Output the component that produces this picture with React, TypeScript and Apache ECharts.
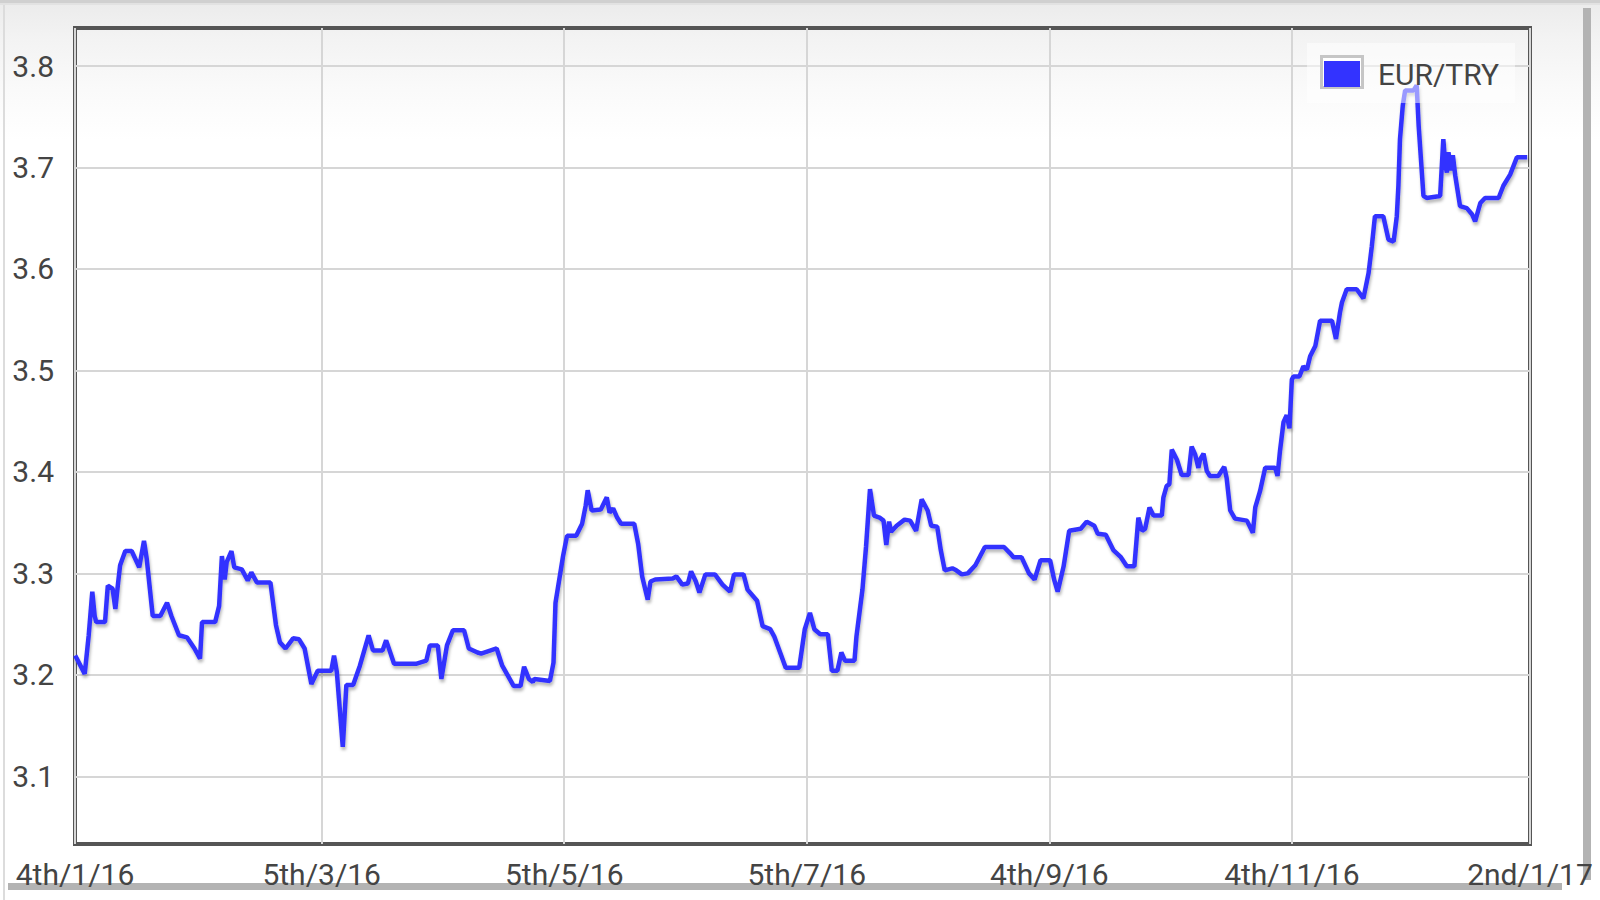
import React, { useEffect, useRef } from "react";
import * as echarts from "echarts";

// Day offsets from 4th Jan 2016 and EUR/TRY rates
const janMarDays = [-1.0, 1.4, 2.4, 3.3, 3.9, 4.3, 6.5, 7.2, 8.4, 9.1, 9.8, 10.3, 11.6, 13.2, 15.1, 16.3, 17.0, 18.5, 20.4, 22.1, 23.2, 25.1, 27.1, 29.0, 30.4, 30.9, 34.2, 35.2, 35.9, 36.6, 37.1, 38.3, 39.0, 40.9, 42.4, 43.3, 44.7, 48.1, 49.5, 50.5, 51.9, 53.8, 55.3, 56.7, 58.4, 60.0];
const janMarRates = [3.219, 3.201, 3.239, 3.282, 3.258, 3.252, 3.252, 3.288, 3.285, 3.265, 3.291, 3.308, 3.322, 3.322, 3.306, 3.332, 3.314, 3.258, 3.258, 3.271, 3.258, 3.239, 3.237, 3.226, 3.216, 3.252, 3.252, 3.268, 3.317, 3.294, 3.311, 3.322, 3.306, 3.304, 3.293, 3.301, 3.291, 3.291, 3.249, 3.232, 3.226, 3.236, 3.235, 3.226, 3.191, 3.204];

const marMayDays = [63.4, 64.1, 64.8, 66.3, 67.2, 68.9, 70.6, 72.8, 73.9, 76.3, 77.2, 79.2, 84.9, 87.3, 88.2, 90.2, 91.1, 92.5, 94.0, 96.8, 98.0, 100.2, 101.1, 105.0, 106.4, 109.3, 111.0, 111.9, 113.1, 114.1, 114.5, 118.4, 119.3, 119.8, 121.7];
const marMayRates = [3.204, 3.219, 3.203, 3.129, 3.190, 3.190, 3.209, 3.239, 3.224, 3.224, 3.234, 3.211, 3.211, 3.214, 3.229, 3.229, 3.196, 3.229, 3.244, 3.244, 3.226, 3.222, 3.221, 3.226, 3.209, 3.189, 3.189, 3.208, 3.196, 3.193, 3.196, 3.194, 3.212, 3.271, 3.317];

const mayJulDays = [122.7, 125.0, 126.5, 127.4, 127.9, 128.9, 131.2, 132.7, 133.4, 134.3, 135.3, 136.3, 139.6, 140.6, 141.6, 143.0, 143.7, 144.9, 149.3, 150.2, 151.7, 153.1, 153.9, 155.1, 156.0, 157.5, 159.9, 161.8, 163.7, 164.7, 167.1, 168.1, 170.5, 171.9, 173.8, 174.8, 176.3, 177.7, 181.1, 182.5];
const mayJulRates = [3.337, 3.337, 3.349, 3.367, 3.382, 3.362, 3.363, 3.375, 3.360, 3.364, 3.355, 3.349, 3.349, 3.329, 3.297, 3.274, 3.292, 3.294, 3.295, 3.297, 3.289, 3.290, 3.302, 3.292, 3.281, 3.299, 3.299, 3.289, 3.282, 3.299, 3.299, 3.284, 3.273, 3.248, 3.245, 3.238, 3.222, 3.207, 3.207, 3.245];

const julSepDays = [183.8, 184.9, 186.4, 188.3, 189.3, 190.7, 191.7, 192.6, 195.0, 195.5, 197.0, 197.9, 198.9, 199.9, 201.3, 202.3, 203.0, 203.7, 204.2, 205.6, 207.6, 209.0, 210.5, 211.9, 213.4, 214.3, 215.8, 216.7, 217.7, 219.6, 220.6, 222.0, 223.5, 225.4, 227.8, 232.6, 234.1, 235.0, 237.0, 238.9, 240.3, 241.8, 244.2];
const julSepRates = [3.261, 3.245, 3.240, 3.240, 3.204, 3.204, 3.222, 3.214, 3.214, 3.238, 3.284, 3.326, 3.383, 3.357, 3.355, 3.352, 3.328, 3.351, 3.341, 3.347, 3.353, 3.352, 3.342, 3.373, 3.362, 3.347, 3.346, 3.323, 3.303, 3.305, 3.303, 3.299, 3.300, 3.308, 3.326, 3.326, 3.320, 3.316, 3.316, 3.300, 3.294, 3.313, 3.313];

const sepNovDays = [245.2, 246.1, 247.6, 249.0, 251.9, 253.4, 255.3, 256.2, 258.2, 260.1, 262.0, 263.5, 265.4, 266.4, 267.3, 268.1, 269.2, 270.2, 272.3, 272.7, 273.5, 274.2, 274.8, 276.1, 277.3, 279.0, 279.8, 280.7, 281.5, 281.9, 282.8, 283.6, 284.4, 286.5, 288.0, 288.6, 289.5, 290.7, 293.7, 295.2, 295.8, 297.0, 298.3, 300.8, 301.4, 302.0, 302.9, 303.7, 304.4];
const sepNovRates = [3.294, 3.282, 3.307, 3.342, 3.344, 3.351, 3.347, 3.339, 3.338, 3.323, 3.316, 3.307, 3.307, 3.355, 3.342, 3.344, 3.365, 3.357, 3.357, 3.375, 3.386, 3.388, 3.422, 3.412, 3.397, 3.397, 3.425, 3.417, 3.404, 3.412, 3.418, 3.401, 3.396, 3.396, 3.405, 3.394, 3.362, 3.354, 3.352, 3.340, 3.365, 3.381, 3.404, 3.404, 3.396, 3.420, 3.449, 3.456, 3.443];

const novJanDays = [305.0, 305.4, 306.9, 307.9, 308.8, 309.6, 310.9, 312.1, 315.1, 316.1, 317.1, 317.6, 318.8, 321.3, 323.0, 324.3, 325.1, 325.9, 328.0, 329.3, 330.6, 331.4, 331.8, 332.2, 332.9, 333.5, 335.6, 336.4, 336.9, 338.1, 338.9, 342.3, 343.1, 343.6, 344.0, 344.4, 345.0, 345.5, 346.1, 347.3, 349.0, 350.3, 351.1, 352.4, 353.6, 357.0, 358.2, 359.9, 361.6, 364.2];
const novJanRates = [3.491, 3.494, 3.494, 3.504, 3.501, 3.514, 3.524, 3.549, 3.549, 3.531, 3.557, 3.567, 3.580, 3.580, 3.571, 3.596, 3.622, 3.652, 3.652, 3.629, 3.627, 3.652, 3.682, 3.728, 3.761, 3.776, 3.776, 3.781, 3.741, 3.672, 3.670, 3.672, 3.728, 3.702, 3.695, 3.715, 3.697, 3.712, 3.692, 3.662, 3.660, 3.654, 3.647, 3.665, 3.670, 3.670, 3.682, 3.693, 3.710, 3.710];

const xTickLabels = ["4th/1/16", "5th/3/16", "5th/5/16", "5th/7/16", "4th/9/16", "4th/11/16", "2nd/1/17"];
const xTickValues = [-1.05, 61, 122, 183, 244, 305, 364.9];
const yTickValues = [3.1, 3.2, 3.3, 3.4, 3.5, 3.6, 3.7, 3.8];
const yMin = 3.0333;
const yMax = 3.8375;
const seriesName = "EUR/TRY";

const allDays = [...janMarDays, ...marMayDays, ...mayJulDays, ...julSepDays, ...sepNovDays, ...novJanDays];
const allRates = [...janMarRates, ...marMayRates, ...mayJulRates, ...julSepRates, ...sepNovRates, ...novJanRates];

function nearestTickLabel(v: number): string {
  let best = 0;
  for (let i = 1; i < xTickValues.length; i++) {
    if (Math.abs(xTickValues[i] - v) < Math.abs(xTickValues[best] - v)) best = i;
  }
  return Math.abs(xTickValues[best] - v) < 0.5 ? xTickLabels[best] : "";
}

export default function App() {
  const ref = useRef<HTMLDivElement>(null);
  useEffect(() => {
    if (!ref.current) return;
    const chart = echarts.init(ref.current, null, { renderer: "svg" });
    const data = allDays.map((d, i) => [d, allRates[i]]);
    const lineColor = "#3333ff";
    chart.setOption({
      animation: false,
      backgroundColor: "transparent",
      textStyle: { fontFamily: "Roboto" },
      grid: {
        left: 75,
        top: 28,
        width: 1455,
        height: 816,
        show: true,
        borderColor: "#555555",
        borderWidth: 4,
        backgroundColor: "transparent",
        containLabel: false,
      },
      legend: {
        show: true,
        left: 1324,
        top: 59,
        padding: 0,
        itemWidth: 36,
        itemHeight: 26,
        icon: "rect",
        selectedMode: false,
        z: 6,
        itemStyle: { color: lineColor },
        textStyle: { fontFamily: "Roboto", fontSize: 30, color: "#444444", padding: [8, 0, 0, 13] },
        data: [{ name: seriesName, icon: "rect" }],
      },
      xAxis: {
        type: "value",
        min: xTickValues[0],
        max: xTickValues[xTickValues.length - 1],
        axisLine: { show: false },
        axisTick: { show: false, customValues: xTickValues },
        splitLine: { show: true, lineStyle: { color: "#d6d6d6", width: 2 } },
        axisLabel: {
          customValues: xTickValues,
          fontFamily: "Roboto",
          fontSize: 30,
          color: "#444444",
          margin: 15,
          showMinLabel: true,
          showMaxLabel: true,
          formatter: (v: number) => nearestTickLabel(v),
        },
      },
      yAxis: {
        type: "value",
        min: yMin,
        max: yMax,
        axisLine: { show: false },
        axisTick: { show: false, customValues: yTickValues },
        splitLine: { show: true, lineStyle: { color: "#d6d6d6", width: 2 } },
        axisLabel: {
          customValues: yTickValues,
          fontFamily: "Roboto",
          fontSize: 30,
          color: "#444444",
          margin: 21,
          padding: [4, 0, 0, 0],
          formatter: (v: number) => v.toFixed(1),
        },
      },
      graphic: [
        { type: "rect", z: -1, silent: true, shape: { x: 0, y: 0, width: 1600, height: 3 }, style: { fill: "#d0d0d0" } },
        { type: "rect", z: -1, silent: true, shape: { x: 0, y: 3, width: 1600, height: 2 }, style: { fill: "#e2e2e2" } },
        { type: "rect", z: -1, silent: true, shape: { x: 3, y: 5, width: 2, height: 895 }, style: { fill: "#dcdcdc" } },
        { type: "rect", z: -1, silent: true, shape: { x: 1583, y: 8, width: 8, height: 872 }, style: { fill: "#b3b3b3" } },
        { type: "rect", z: -1, silent: true, shape: { x: 8, y: 883, width: 1554, height: 7 }, style: { fill: "#b3b3b3" } },
        { type: "rect", z: 3, silent: true, shape: { x: 1307, y: 43, width: 208, height: 60 }, style: { fill: "rgba(255,255,255,0.5)" } },
        { type: "rect", z: 3, silent: true, shape: { x: 1321.5, y: 56.5, width: 41, height: 31 }, style: { fill: "#ffffff", stroke: "#c6c6c6", lineWidth: 3 } },
      ],
      series: [
        {
          name: seriesName,
          type: "line",
          data,
          showSymbol: false,
          symbol: "none",
          z: 2,
          lineStyle: {
            color: lineColor,
            width: 4.5,
            shadowColor: "rgba(0,0,0,0.28)",
            shadowBlur: 3,
            shadowOffsetX: 1,
            shadowOffsetY: 3,
          },
          itemStyle: { color: lineColor },
        },
      ],
    });
    return () => chart.dispose();
  }, []);
  return (
    <div
      style={{
        position: "fixed",
        left: 0,
        top: 0,
        width: 1600,
        height: 900,
        background: "linear-gradient(to bottom, #ebebeb 0px, #f3f3f3 40px, #fafafa 90px, #ffffff 140px)",
      }}
    >
      <div ref={ref} style={{ width: 1600, height: 900 }} />
    </div>
  );
}
